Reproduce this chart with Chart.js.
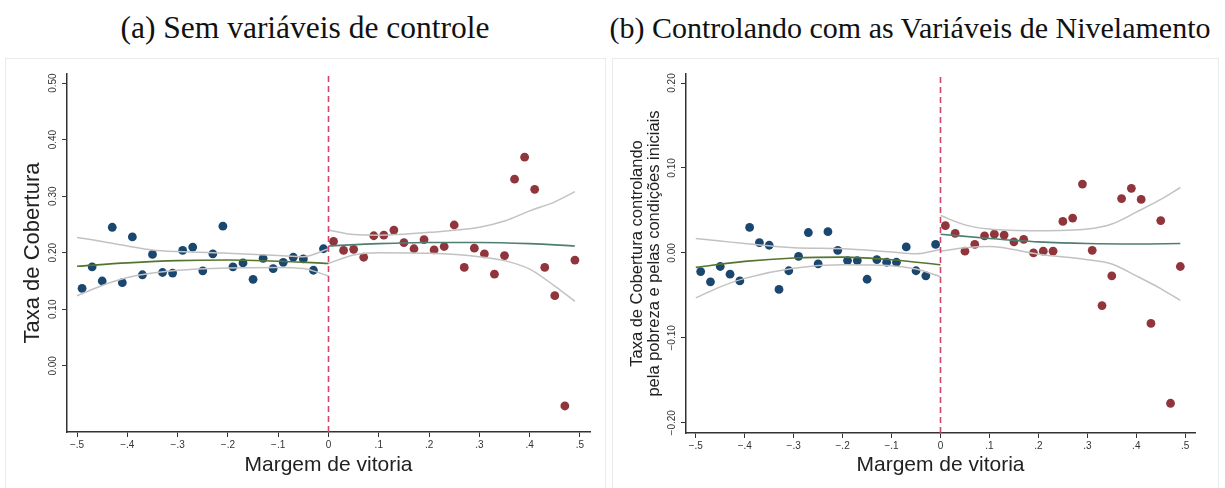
<!DOCTYPE html>
<html><head><meta charset="utf-8">
<script src="https://cdn.jsdelivr.net/npm/chart.js@4.4.1/dist/chart.umd.min.js"></script>
<style>
body{margin:0;background:#fff;width:1225px;height:488px;overflow:hidden;position:relative;font-family:'Liberation Sans',Arial,sans-serif}
.title{position:absolute;top:12px;line-height:32px;font-family:'Liberation Serif','Times New Roman',serif;font-size:30px;color:#111;text-align:center;white-space:nowrap}
.frame{position:absolute;top:58px;height:440px;border:1px solid #e6ecec;box-sizing:border-box}
canvas{position:absolute}
</style></head><body>
<div class="title" style="left:5px;width:600px;font-size:31.5px">(a) Sem variáveis de controle</div>
<div class="title" style="left:607px;width:606px">(b) Controlando com as Variáveis de Nivelamento</div>
<div class="frame" style="left:5px;width:601px"></div>
<div class="frame" style="left:612px;width:607px"></div>
<canvas id="ca" width="600" height="430" style="left:5px;top:58px"></canvas>
<canvas id="cb" width="606" height="430" style="left:612px;top:58px"></canvas>
<script>
// ---- bins (margem de vitoria) ----
const binsLeft  = [-0.49,-0.47,-0.45,-0.43,-0.41,-0.39,-0.37,-0.35,-0.33,-0.31,-0.29,-0.27,-0.25,-0.23,-0.21,-0.19,-0.17,-0.15,-0.13,-0.11,-0.09,-0.07,-0.05,-0.03,-0.01];
const binsRight = [0.01,0.03,0.05,0.07,0.09,0.11,0.13,0.15,0.17,0.19,0.21,0.23,0.25,0.27,0.29,0.31,0.33,0.35,0.37,0.39,0.41,0.43,0.45,0.47,0.49];

// ---- panel (a) ----
const aLeftY  = [0.137,0.175,0.150,0.245,0.147,0.228,0.161,0.197,0.165,0.164,0.204,0.210,0.168,0.198,0.247,0.175,0.182,0.153,0.190,0.172,0.183,0.192,0.189,0.169,0.207];
const aRightY = [0.220,0.204,0.206,0.192,0.230,0.231,0.240,0.218,0.207,0.223,0.205,0.211,0.249,0.174,0.208,0.198,0.162,0.195,0.330,0.369,0.312,0.174,0.124,-0.071,0.187];
const aFitLX = [-0.5,-0.4,-0.3,-0.2,-0.1,0];
const aFitL  = [0.176,0.182,0.186,0.187,0.185,0.181];
const aCiLX  = [-0.5,-0.45,-0.4,-0.35,-0.3,-0.2,-0.1,-0.05,0];
const aCiLHi = [0.227,0.220,0.212,0.205,0.202,0.199,0.195,0.193,0.207];
const aCiLLo = [0.124,0.142,0.156,0.164,0.169,0.173,0.174,0.172,0.159];
const aFitRX = [0,0.1,0.2,0.3,0.4,0.49];
const aFitR  = [0.212,0.216,0.218,0.218,0.216,0.212];
const aCiRX  = [0,0.05,0.1,0.2,0.3,0.35,0.4,0.45,0.49];
const aCiRHi = [0.240,0.232,0.231,0.236,0.245,0.256,0.274,0.290,0.308];
const aCiRLo = [0.181,0.196,0.200,0.199,0.193,0.186,0.171,0.141,0.114];
const aYTicks = [0,0.1,0.2,0.3,0.4,0.5];
const aYLabels = ['0.00','0.10','0.20','0.30','0.40','0.50'];
const aYRange = [-0.117,0.516];

// ---- panel (b) ----
const bLeftY  = [-0.022,-0.034,-0.016,-0.025,-0.033,0.030,0.012,0.009,-0.043,-0.021,-0.004,0.024,-0.013,0.025,0.003,-0.009,-0.009,-0.031,-0.008,-0.011,-0.011,0.007,-0.021,-0.027,0.010];
const bRightY = [0.032,0.023,0.002,0.010,0.020,0.022,0.021,0.013,0.016,0.000,0.002,0.002,0.037,0.041,0.081,0.003,-0.062,-0.027,0.064,0.076,0.063,-0.083,0.038,-0.177,-0.016];
const bFitLX = [-0.5,-0.4,-0.3,-0.2,-0.1,0];
const bFitL  = [-0.017,-0.010,-0.006,-0.005,-0.008,-0.014];
const bCiLX  = [-0.5,-0.45,-0.4,-0.3,-0.2,-0.1,-0.05,0];
const bCiLHi = [0.017,0.014,0.011,0.006,0.005,0.001,-0.001,0.004];
const bCiLLo = [-0.053,-0.040,-0.030,-0.018,-0.014,-0.015,-0.019,-0.028];
const bFitRX = [0,0.1,0.2,0.3,0.4,0.49];
const bFitR  = [0.022,0.017,0.013,0.011,0.0105,0.011];
const bCiRX  = [0,0.05,0.1,0.2,0.3,0.35,0.4,0.45,0.49];
const bCiRHi = [0.044,0.033,0.028,0.026,0.028,0.034,0.048,0.063,0.077];
const bCiRLo = [0.002,0.006,0.0075,-0.0015,-0.008,-0.013,-0.027,-0.042,-0.056];
const bYTicks = [-0.2,-0.1,0,0.1,0.2];
const bYLabels = ['\u22120.20','\u22120.10','0.00','0.10','0.20'];
const bYRange = [-0.212,0.2106];

// ---- shared x axis ----
const xTicks  = [-0.5,-0.4,-0.3,-0.2,-0.1,0,0.1,0.2,0.3,0.4,0.5];
const xLabels = ['\u2212.5','\u2212.4','\u2212.3','\u2212.2','\u2212.1','0','.1','.2','.3','.4','.5'];
const xRange = [-0.52,0.52];

const C = {blue:'#1a476f', red:'#90353b', green:'#55752f', teal:'#4f7f72', ci:'#c2c2c2', cut:'#d4456c', axis:'#333'};
const SANS = "'Liberation Sans', Arial, sans-serif";

const zip = (xs, ys) => xs.map((x,i)=>({x, y: ys[i]}));

const rotYTicks = {
  id:'rotYTicks',
  afterDraw(chart, args, opts){
    const s = chart.scales.y, ctx = chart.ctx;
    ctx.save();
    ctx.font = '10px ' + SANS;
    ctx.fillStyle = '#333';
    ctx.textAlign = 'center'; ctx.textBaseline = 'middle';
    opts.values.forEach((v,i)=>{
      const py = s.getPixelForValue(v);
      ctx.save(); ctx.translate(s.right - 14, py); ctx.rotate(-Math.PI/2);
      ctx.fillText(opts.labels[i], 0, 0); ctx.restore();
    });
    ctx.restore();
  }
};

function lineDs(data, color, width){
  return {type:'scatter', data, showLine:true, borderColor:color, borderWidth:width, pointRadius:0, fill:false, cubicInterpolationMode:'monotone'};
}

function makeChart(id, P){
  const datasets = [
    {type:'scatter', data:[{x:0,y:P.yRange[0]},{x:0,y:P.yRange[1]}], showLine:true, borderColor:C.cut, borderWidth:1.6, borderDash:[6,4], pointRadius:0, tension:0},
    lineDs(zip(P.fitLX,P.fitL), C.green, 1.6),
    lineDs(zip(P.fitRX,P.fitR), C.teal, 1.6),
    lineDs(zip(P.ciLX,P.ciLHi), C.ci, 1.5),
    lineDs(zip(P.ciLX,P.ciLLo), C.ci, 1.5),
    lineDs(zip(P.ciRX,P.ciRHi), C.ci, 1.5),
    lineDs(zip(P.ciRX,P.ciRLo), C.ci, 1.5),
    {type:'scatter', data:zip(binsLeft,P.leftY), backgroundColor:C.blue, borderColor:C.blue, borderWidth:0, pointRadius:4.4},
    {type:'scatter', data:zip(binsRight,P.rightY), backgroundColor:C.red, borderColor:C.red, borderWidth:0, pointRadius:4.4}
  ];
  return new Chart(document.getElementById(id), {
    type:'scatter',
    data:{datasets},
    plugins:[rotYTicks],
    options:{
      responsive:false, animation:false, devicePixelRatio:1,
      layout:{padding:{top:16,right:P.padRight,bottom:0,left:0}},
      plugins:{legend:{display:false}, tooltip:{enabled:false}, rotYTicks:{values:P.yTicks, labels:P.yLabels}},
      scales:{
        x:{type:'linear', min:xRange[0], max:xRange[1],
           afterBuildTicks:s=>{s.ticks = xTicks.map(v=>({value:v}));},
           afterFit:s=>{s.height = P.xH;},
           ticks:{callback:(v)=>{const i = xTicks.findIndex(t=>Math.abs(t-v)<1e-9); return i>=0 ? xLabels[i] : '';}, font:{family:SANS,size:10}, color:'#333', padding:2, maxRotation:0, autoSkip:false},
           grid:{display:true, drawOnChartArea:false, drawTicks:true, tickLength:5, tickColor:C.axis, tickWidth:1},
           border:{display:true, color:C.axis, width:1.5},
           title:{display:true, text:'Margem de vitoria', font:{family:SANS,size:21,lineHeight:1}, color:'#222', padding:{top:0,bottom:12.5}}
        },
        y:{type:'linear', min:P.yRange[0], max:P.yRange[1],
           afterBuildTicks:s=>{s.ticks = P.yTicks.map(v=>({value:v}));},
           afterFit:s=>{s.width = P.yW;},
           ticks:{display:false},
           grid:{display:true, drawOnChartArea:false, drawTicks:true, tickLength:5, tickColor:C.axis, tickWidth:1},
           border:{display:true, color:C.axis, width:1.5},
           title:{display:true, text:P.yTitle, font:{family:SANS,size:P.yTitleSize,lineHeight:1}, color:'#222', padding:{top:P.yTitlePad,bottom:0}}
        }
      }
    }
  });
}

makeChart('ca', {leftY:aLeftY, rightY:aRightY, fitLX:aFitLX, fitL:aFitL, ciLX:aCiLX, ciLHi:aCiLHi, ciLLo:aCiLLo,
  fitRX:aFitRX, fitR:aFitR, ciRX:aCiRX, ciRHi:aCiRHi, ciRLo:aCiRLo, yTicks:aYTicks, yLabels:aYLabels, yRange:aYRange,
  padRight:15, xH:56, yW:62, yTitle:'Taxa de Cobertura', yTitleSize:22, yTitlePad:17});
makeChart('cb', {leftY:bLeftY, rightY:bRightY, fitLX:bFitLX, fitL:bFitL, ciLX:bCiLX, ciLHi:bCiLHi, ciLLo:bCiLLo,
  fitRX:bFitRX, fitR:bFitR, ciRX:bCiRX, ciRHi:bCiRHi, ciRLo:bCiRLo, yTicks:bYTicks, yLabels:bYLabels, yRange:bYRange,
  padRight:23, xH:55, yW:74, yTitle:['Taxa de Cobertura controlando','pela pobreza e pelas condições iniciais'], yTitleSize:16.5, yTitlePad:17.5});
</script>
</body></html>
